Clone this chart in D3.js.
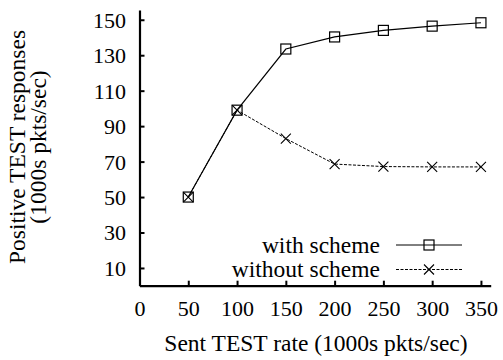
<!DOCTYPE html>
<html lang="en">
  <head>
    <meta charset="UTF-8" />
    <title>TEST responses</title>
    <script src="https://d3js.org/d3.v7.min.js"></script>
    <style>
      body { margin: 0; background: #fff; }
      text { font-family: "Liberation Serif", "Times New Roman", serif; fill: #000; }
    </style>
  </head>
  <body>
    <svg width="503" height="360"></svg>
    <script>
      var sentRate = [50, 100, 150, 200, 250, 300, 350];
      var withScheme = [50, 99, 133.5, 140.3, 144, 146.4, 148.3];
      var withoutScheme = [50, 99, 83, 68.6, 67.2, 67, 67];
      var xTicks = [0, 50, 100, 150, 200, 250, 300, 350];
      var yTicks = [10, 30, 50, 70, 90, 110, 130, 150];

      var svg = d3.select("svg");
      var plotLeft = 139.5, plotRight = 490.7, plotTop = 10, plotBottom = 285.7;

      var x = d3.scaleLinear().domain([0, 360]).range([plotLeft, plotRight]);
      var y = d3.scaleLinear().domain([0, 155.5]).range([plotBottom, plotTop]);

      // axes, ticks point inward
      var xAxis = svg.append("g")
        .attr("transform", "translate(0," + plotBottom + ")")
        .call(d3.axisBottom(x).tickValues(xTicks).tickSizeInner(-5).tickSizeOuter(0).tickPadding(15));
      var yAxis = svg.append("g")
        .attr("transform", "translate(" + plotLeft + ",0)")
        .call(d3.axisLeft(y).tickValues(yTicks).tickSizeInner(-5).tickSizeOuter(0).tickPadding(13.5));

      [xAxis, yAxis].forEach(function (a) {
        a.select(".domain").attr("stroke", "#000").attr("stroke-width", 2.2);
        a.selectAll(".tick line").attr("stroke", "#000").attr("stroke-width", 2);
        a.selectAll(".tick text").style("font-size", "22px").style("font-family", "Liberation Serif").attr("fill", "#000");
      });
      yAxis.selectAll(".tick text").attr("dy", "0.34em");

      // axis titles
      svg.append("text")
        .attr("x", 316).attr("y", 351)
        .attr("text-anchor", "middle")
        .style("font-size", "23.5px")
        .text("Sent TEST rate (1000s pkts/sec)");

      var yt = svg.append("text")
        .attr("transform", "translate(25,147) rotate(-90)")
        .attr("text-anchor", "middle")
        .style("font-size", "23.5px");
      yt.append("tspan").attr("x", 0).attr("y", 0).text("Positive TEST responses");
      yt.append("tspan").attr("x", 0).attr("y", 21).text("(1000s pkts/sec)");

      var line = d3.line()
        .x(function (d, i) { return x(sentRate[i]); })
        .y(function (d) { return y(d); });

      // without scheme (dashed with crosses)
      svg.append("path")
        .attr("d", line(withoutScheme))
        .attr("fill", "none").attr("stroke", "#000").attr("stroke-width", 1)
        .attr("stroke-dasharray", "3,1.5");

      svg.append("path")
        .attr("d", line(withScheme))
        .attr("fill", "none").attr("stroke", "#000").attr("stroke-width", 1.2);

      function cross(g, cx, cy) {
        var s = 5;
        g.append("path")
          .attr("d", "M" + (cx - s) + "," + (cy - s) + "L" + (cx + s) + "," + (cy + s) +
                     "M" + (cx - s) + "," + (cy + s) + "L" + (cx + s) + "," + (cy - s))
          .attr("stroke", "#000").attr("stroke-width", 1.1).attr("fill", "none");
      }
      function square(g, cx, cy) {
        g.append("rect")
          .attr("x", cx - 5).attr("y", cy - 5).attr("width", 10).attr("height", 10)
          .attr("fill", "none").attr("stroke", "#000").attr("stroke-width", 1.2);
      }

      var marks = svg.append("g");
      withoutScheme.forEach(function (d, i) { cross(marks, x(sentRate[i]), y(d)); });
      withScheme.forEach(function (d, i) { square(marks, x(sentRate[i]), y(d)); });

      // legend
      var legend = svg.append("g");
      var rows = [
        { label: "with scheme", dash: null, mark: square },
        { label: "without scheme", dash: "3,1.5", mark: cross }
      ];
      rows.forEach(function (r, i) {
        var ly = 245 + i * 24.5;
        legend.append("text")
          .attr("x", 380).attr("y", ly).attr("dy", "0.32em")
          .attr("text-anchor", "end")
          .style("font-size", "23.5px")
          .text(r.label);
        legend.append("line")
          .attr("x1", 396).attr("x2", 462).attr("y1", ly).attr("y2", ly)
          .attr("stroke", "#000").attr("stroke-width", 1)
          .attr("stroke-dasharray", r.dash);
        r.mark(legend, 429, ly);
      });
    </script>
  </body>
</html>
